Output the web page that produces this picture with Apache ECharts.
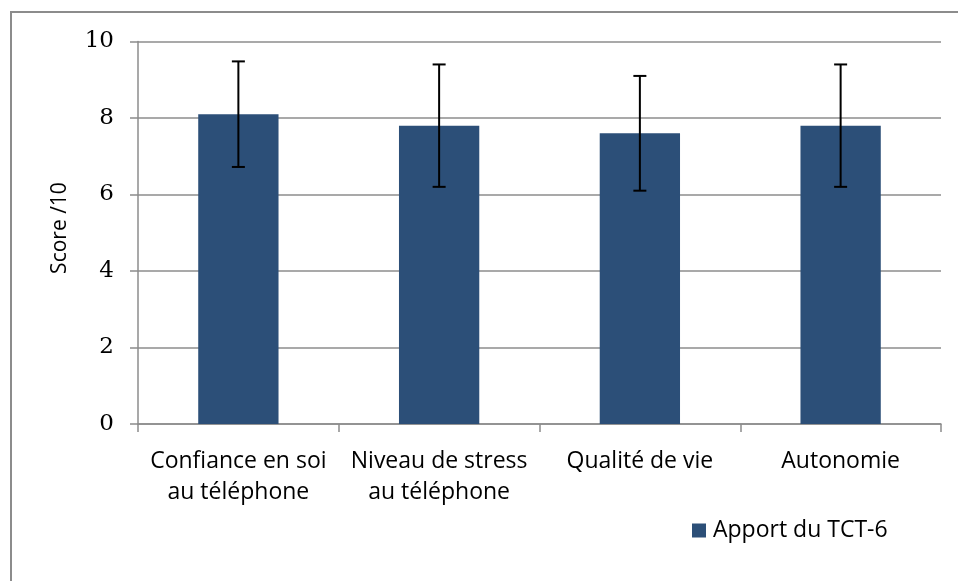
<!DOCTYPE html>
<html>
<head>
<meta charset="utf-8">
<script src="https://cdn.jsdelivr.net/npm/echarts@6/dist/echarts.min.js"></script>
<style>
	html, body { margin: 0; padding: 0; background: #fff; }
	#myChart { width: 958px; height: 581px; }
</style>
</head>
<body>
<div id="myChart"></div>
<script>
	// données
	var categories = ['Confiance en soi\nau téléphone', 'Niveau de stress\nau téléphone', 'Qualité de vie', 'Autonomie'];
	var scores = [8.1, 7.8, 7.6, 7.8];
	var ecarts = [1.38, 1.6, 1.5, 1.6];
	var yTicks = [0, 2, 4, 6, 8, 10];
	var seriesName = 'Apport du TCT-6';

	var errData = scores.map(function(v, i) {
		return [i, v - ecarts[i], v + ecarts[i]];
	});

	var sans = 'Open Sans';
	var serif = 'DejaVu Serif';

	var myChart = echarts.init(document.getElementById('myChart'));
	var option = {
		animation: false,
		backgroundColor: '#fff',
		grid: {
			left: 138,
			top: 41.5,
			right: 17,
			bottom: 157
		},
		legend: {
			data: [seriesName],
			left: 692,
			top: 519,
			padding: 0,
			icon: 'rect',
			itemWidth: 14,
			itemHeight: 14,
			itemGap: 10,
			selectedMode: false,
			textStyle: {
				fontFamily: sans,
				fontSize: 23,
				color: '#000',
				padding: [0, 0, 0, 2]
			}
		},
		xAxis: {
			type: 'category',
			data: categories,
			axisLine: { lineStyle: { color: '#8c8c8c', width: 1.5 } },
			axisTick: { show: true, length: 8, lineStyle: { color: '#8c8c8c', width: 1.5 } },
			axisLabel: {
				fontFamily: sans,
				fontSize: 23,
				color: '#000',
				lineHeight: 31,
				margin: 22,
				interval: 0
			}
		},
		yAxis: {
			type: 'value',
			min: yTicks[0],
			max: yTicks[yTicks.length - 1],
			interval: 2,
			axisLine: { show: true, lineStyle: { color: '#8c8c8c', width: 1.5 } },
			axisTick: { show: true, length: 8, lineStyle: { color: '#8c8c8c', width: 1.5 } },
			splitLine: { lineStyle: { color: '#8c8c8c', width: 1.5 } },
			axisLabel: {
				fontFamily: serif,
				fontSize: 23,
				color: '#000',
				margin: 24
			}
		},
		series: [{
			name: seriesName,
			type: 'bar',
			data: scores,
			barWidth: '40%',
			itemStyle: { color: '#2c4f78' }
		}, {
			type: 'custom',
			data: errData,
			z: 10,
			renderItem: function(params, api) {
				var x = api.value(0);
				var lo = api.coord([x, api.value(1)]);
				var hi = api.coord([x, api.value(2)]);
				var half = 6.5;
				var style = { stroke: '#000', lineWidth: 2 };
				return {
					type: 'group',
					children: [
						{ type: 'line', shape: { x1: hi[0], y1: hi[1], x2: lo[0], y2: lo[1] }, style: style },
						{ type: 'line', shape: { x1: hi[0] - half, y1: hi[1], x2: hi[0] + half, y2: hi[1] }, style: style },
						{ type: 'line', shape: { x1: lo[0] - half, y1: lo[1], x2: lo[0] + half, y2: lo[1] }, style: style }
					]
				};
			}
		}],
		graphic: [{
			type: 'rect',
			shape: { x: 11, y: 12, width: 980, height: 620 },
			style: { fill: 'none', stroke: '#8c8c8c', lineWidth: 2 },
			silent: true
		}, {
			type: 'text',
			x: 60,
			y: 228,
			rotation: Math.PI / 2,
			style: {
				text: 'Score /10',
				font: '21px ' + sans,
				fill: '#000',
				align: 'center',
				verticalAlign: 'middle'
			}
		}]
	};
	myChart.setOption(option);
	window.addEventListener('resize', function() {
		myChart.resize();
	});
</script>
</body>
</html>
